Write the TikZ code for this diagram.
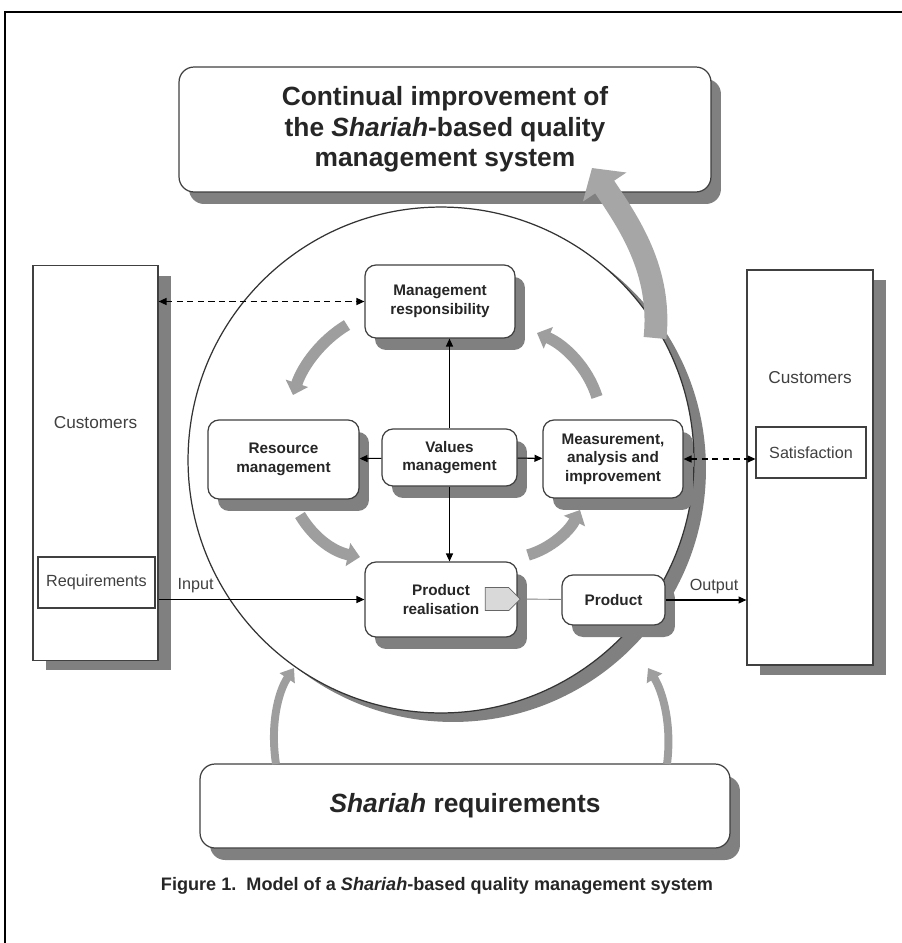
\documentclass[tikz,border=0pt]{standalone}
\usepackage{fontspec}
\setmainfont{Liberation Sans}
\usetikzlibrary{arrows.meta,shadows,shapes.symbols}

\begin{document}
\begin{tikzpicture}[x=0.02cm, y=-0.02cm,
    box/.style={draw=black!75, line width=0.7pt, fill=white, rounded corners=0.22cm, align=center,
        drop shadow={shadow xshift=0.2cm, shadow yshift=-0.24cm, fill=black!50, opacity=1}},
    procbox/.style={box, font=\fontsize{8.7}{10.5}\selectfont\bfseries, text=black!85},
    bigbox/.style={box, rounded corners=0.3cm, font=\fontsize{15}{17.3}\selectfont\bfseries, text=black!85},
    custbox/.style={draw=black!75, line width=0.7pt, fill=white, minimum width=2.5cm, minimum height=7.9cm,
        drop shadow={shadow xshift=0.26cm, shadow yshift=-0.2cm, fill=black!50, opacity=1}},
    subbox/.style={draw=black!75, line width=0.6pt, fill=white, font=\fontsize{9.2}{11}\selectfont, text=black!75},
    lbl/.style={font=\fontsize{9.2}{11}\selectfont, text=black!75},
    custlbl/.style={font=\fontsize{9.8}{12}\selectfont, text=black!75},
    flow/.style={line width=0.6pt, -{Triangle[length=4.5pt,width=4pt]}},
    feedback/.style={line width=0.7pt, dash pattern=on 3.5pt off 2.5pt,
        {Triangle[length=4.5pt,width=4pt]}-{Triangle[length=4.5pt,width=4pt]}},
    cyc/.style={line width=6.5pt, draw=black!38, -{Triangle[length=7pt,width=13pt]}},
    lift/.style={line width=4.5pt, draw=black!38, -{Triangle[length=7pt,width=10pt]}}
]
\useasboundingbox (0,0) rectangle (902,943);
\draw[line width=1.1pt] (5,960) -- (5,12) -- (910,12);

% the QMS circle
\node[circle, draw=black!80, line width=0.7pt, fill=white, minimum size=10.12cm,
    drop shadow={shadow xshift=0.24cm, shadow yshift=-0.18cm, fill=black!50, opacity=1}] (qms) at (441,460) {};

% cycle arrows inside the circle
\draw[cyc] (347,325) .. controls (322,340) and (303,365) .. (293,395);
\draw[cyc] (300,515) .. controls (315,540) and (335,552) .. (360,557);
\draw[cyc] (528,555) .. controls (552,548) and (570,530) .. (580,510);
\draw[cyc] (597,397) .. controls (588,368) and (565,345) .. (537,333);

\node[bigbox, minimum width=10.64cm, minimum height=2.5cm] (improve) at (445,129.5)
    {Continual improvement of\\the \textit{Shariah}-based quality\\management system};
\node[bigbox, minimum width=10.6cm, minimum height=1.68cm] (shariah) at (465,806)
    {\textit{Shariah} requirements};

% customers
\node[custbox, label={[custlbl, yshift=0.8cm]center:Customers}] (custL) at (95.5,463) {};
\node[subbox, minimum width=2.34cm, minimum height=1.02cm] (req) at (96.5,582.5) {Requirements};
\node[custbox, minimum width=2.52cm, label={[custlbl, yshift=1.79cm]center:Customers}] (custR) at (810,467.5) {};
\node[subbox, minimum width=2.2cm, minimum height=1.02cm] (sat) at (811,452.5) {Satisfaction};

% processes
\node[procbox, minimum width=3cm, minimum height=1.46cm] (mgmt) at (440,301.5) {Management\\responsibility};
\node[procbox, minimum width=3.02cm, minimum height=1.58cm] (res) at (283.5,459.5) {Resource\\management};
\node[procbox, minimum width=2.7cm, minimum height=1.14cm] (val) at (449.5,457.5) {Values\\management};
\node[procbox, minimum width=2.8cm, minimum height=1.56cm] (meas) at (613,459) {Measurement,\\analysis and\\improvement};
\node[procbox, minimum width=3.04cm, minimum height=1.5cm] (real) at (441,599.5) {Product\\realisation};
\node[procbox, minimum width=2.06cm, minimum height=1cm] (prod) at (613.5,600) {Product};
\node[signal, signal to=east, draw=black!60, fill=black!15, minimum width=0.7cm, minimum height=0.46cm,
    inner sep=0pt] (sig) at (497,599) {};

% connectors
\draw[black!50, line width=0.5pt] (sig.east) -- (prod);
\draw[flow] (val) -- (res);
\draw[flow] (val) -- (meas);
\draw[flow] (val.north) -- (val.north |- mgmt.south);
\draw[flow] (val.south) -- (val.south |- real.north);
\draw[flow] (custL.east |- real.west) -- (real.west) node[pos=0.18, above, lbl] {Input};
\draw[flow] (prod.east) -- (prod.east -| custR.west) node[pos=0.6, above, lbl] {Output};
\draw[feedback] (custL.east |- mgmt.west) -- (mgmt.west);
\draw[feedback] (meas.east) -- (meas.east -| sat.west);

% shariah input and improvement arrows
\draw[lift] (276,764) .. controls (270,725) and (278,692) .. (294,668);
\draw[lift] (667,764) .. controls (672,725) and (663,692) .. (648,668);
\draw[line width=13pt, draw=black!35, -{Triangle[length=13pt,width=29pt]}]
    (655,338) .. controls (662,270) and (628,222) .. (592,168);

\node[font=\fontsize{10.3}{12}\selectfont\bfseries, text=black!85] (caption) at (437,886)
    {Figure 1.\ \ Model of a \textit{Shariah}-based quality management system};
\end{tikzpicture}
\end{document}
